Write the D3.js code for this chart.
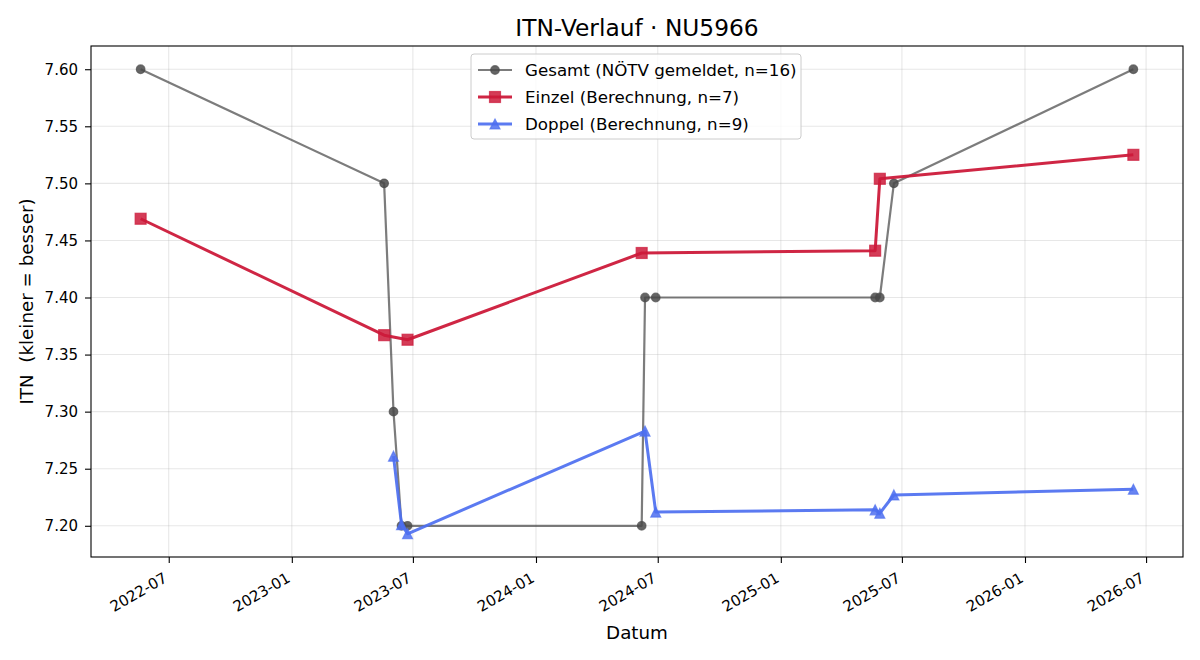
<!DOCTYPE html>
<html>
<head>
<meta charset="utf-8">
<script src="https://cdn.jsdelivr.net/npm/d3@7"></script>
<style>
  body { margin: 0; background: #fff; }
  svg text { font-family: "DejaVu Sans", sans-serif; fill: #000; white-space: pre; }
</style>
</head>
<body>
<svg id="chart" width="1200" height="660"></svg>
<script>
// values
var gesamtDates = ['2022-05-20', '2023-05-19', '2023-06-02', '2023-06-14', '2023-06-23', '2024-06-07',
  '2024-06-12', '2024-06-28', '2025-05-22', '2025-05-29', '2025-06-19', '2026-06-12'];
var gesamtItn = [7.60, 7.50, 7.30, 7.20, 7.20, 7.20, 7.40, 7.40, 7.40, 7.40, 7.50, 7.60];

var einzelDates = ['2022-05-20', '2023-05-19', '2023-06-23', '2024-06-07', '2025-05-22', '2025-05-29', '2026-06-12'];
var einzelItn = [7.469, 7.367, 7.363, 7.439, 7.441, 7.504, 7.525];

var doppelDates = ['2023-06-02', '2023-06-14', '2023-06-23', '2024-06-12', '2024-06-28', '2025-05-22',
  '2025-05-29', '2025-06-19', '2026-06-12'];
var doppelItn = [7.261, 7.201, 7.193, 7.283, 7.212, 7.214, 7.211, 7.227, 7.232];

var yTicks = [7.20, 7.25, 7.30, 7.35, 7.40, 7.45, 7.50, 7.55, 7.60];

var seriesLabels = ['Gesamt (NÖTV gemeldet, n=16)', 'Einzel (Berechnung, n=7)', 'Doppel (Berechnung, n=9)'];

(function () {
  'use strict';
  var W = 1200, H = 660;
  var m = { left: 91, right: 17, top: 46, bottom: 103 };
  var pw = W - m.left - m.right, ph = H - m.top - m.bottom;
  var parse = d3.timeParse('%Y-%m-%d');

  function zip(dates, vals) {
    return dates.map(function (d, i) { return { date: parse(d), v: vals[i] }; });
  }
  var series = [
    { label: seriesLabels[0], data: zip(gesamtDates, gesamtItn), color: '#4a4a4a', lineOp: 0.72, width: 2.2, marker: 'circle', size: 9.6 },
    { label: seriesLabels[1], data: zip(einzelDates, einzelItn), color: '#cc1a3a', lineOp: 0.95, width: 3, marker: 'square', size: 11 },
    { label: seriesLabels[2], data: zip(doppelDates, doppelItn), color: '#4d6ff0', lineOp: 0.92, width: 3, marker: 'triangle', size: 10 }
  ];

  var all = [];
  series.forEach(function (s) { all = all.concat(s.data); });
  var xExt = d3.extent(all, function (d) { return d.date; });
  var yExt = d3.extent(all, function (d) { return d.v; });
  var xPad = (xExt[1] - xExt[0]) * 0.05, yPad = (yExt[1] - yExt[0]) * 0.05;

  var x = d3.scaleTime()
    .domain([new Date(+xExt[0] - xPad), new Date(+xExt[1] + xPad)])
    .range([0, pw]);
  var y = d3.scaleLinear()
    .domain([yExt[0] - yPad, yExt[1] + yPad])
    .range([ph, 0]);

  var svg = d3.select('#chart');
  var g = svg.append('g').attr('transform', 'translate(' + m.left + ',' + m.top + ')');

  var xTicks = x.ticks(d3.timeMonth.every(6));

  // grid
  g.append('g').selectAll('line').data(xTicks).enter().append('line')
    .attr('x1', function (d) { return x(d); }).attr('x2', function (d) { return x(d); })
    .attr('y1', 0).attr('y2', ph)
    .attr('stroke', '#b0b0b0').attr('stroke-opacity', 0.3).attr('stroke-width', 1.1);
  g.append('g').selectAll('line').data(yTicks).enter().append('line')
    .attr('y1', function (d) { return y(d); }).attr('y2', function (d) { return y(d); })
    .attr('x1', 0).attr('x2', pw)
    .attr('stroke', '#b0b0b0').attr('stroke-opacity', 0.3).attr('stroke-width', 1.1);

  // axes
  var xAxis = g.append('g').attr('transform', 'translate(0,' + ph + ')')
    .call(d3.axisBottom(x).tickValues(xTicks).tickFormat(d3.timeFormat('%Y-%m')).tickSize(6).tickSizeOuter(0));
  xAxis.select('.domain').remove();
  xAxis.selectAll('line').attr('stroke', '#000').attr('stroke-width', 1.1);
  xAxis.selectAll('text')
    .attr('font-size', 15)
    .attr('text-anchor', 'end')
    .attr('y', null).attr('dy', null)
    .attr('transform', 'translate(-1,24) rotate(-30)');

  var yAxis = g.append('g')
    .call(d3.axisLeft(y).tickValues(yTicks).tickFormat(d3.format('.2f')).tickSize(6).tickPadding(7).tickSizeOuter(0));
  yAxis.select('.domain').remove();
  yAxis.selectAll('line').attr('stroke', '#000').attr('stroke-width', 1.1);
  yAxis.selectAll('text').attr('font-size', 15);

  // lines and markers
  svg.append('defs').append('clipPath').attr('id', 'plotclip')
    .append('rect').attr('width', pw).attr('height', ph);
  var plot = g.append('g').attr('clip-path', 'url(#plotclip)');
  var line = d3.line().x(function (d) { return x(d.date); }).y(function (d) { return y(d.v); });

  function drawMarker(sel, s) {
    var r = s.size / 2;
    if (s.marker === 'circle') {
      sel.append('circle').attr('r', r - 0.5);
    } else if (s.marker === 'square') {
      sel.append('rect').attr('x', -r).attr('y', -r).attr('width', s.size).attr('height', s.size);
    } else {
      sel.append('path').attr('d', 'M0,' + (-r) + 'L' + r + ',' + r + 'L' + (-r) + ',' + r + 'Z');
    }
  }

  series.forEach(function (s) {
    plot.append('path').datum(s.data)
      .attr('d', line).attr('fill', 'none')
      .attr('stroke', s.color).attr('stroke-opacity', s.lineOp)
      .attr('stroke-width', s.width).attr('stroke-linejoin', 'round');
    plot.append('g').selectAll('g').data(s.data).enter().append('g')
      .attr('transform', function (d) { return 'translate(' + x(d.date) + ',' + y(d.v) + ')'; })
      .each(function () { drawMarker(d3.select(this), s); })
      .selectAll('*')
      .attr('fill', s.color).attr('fill-opacity', 0.85)
      .attr('stroke', s.color).attr('stroke-opacity', 0.7).attr('stroke-width', 1.2);
  });

  // frame
  g.append('rect').attr('width', pw).attr('height', ph)
    .attr('fill', 'none').attr('stroke', '#000').attr('stroke-width', 1.1);

  // legend
  var lg = g.append('g').attr('transform', 'translate(' + (471 - m.left) + ',' + (54 - m.top) + ')');
  lg.append('rect').attr('width', 330).attr('height', 85).attr('rx', 3)
    .attr('fill', '#fff').attr('fill-opacity', 0.8)
    .attr('stroke', '#cccccc').attr('stroke-width', 1);
  series.forEach(function (s, i) {
    var row = lg.append('g').attr('transform', 'translate(0,' + (16 + i * 27) + ')');
    row.append('line').attr('x1', 7).attr('x2', 41)
      .attr('stroke', s.color).attr('stroke-opacity', s.lineOp).attr('stroke-width', s.width);
    row.append('g').attr('transform', 'translate(24,0)')
      .each(function () { drawMarker(d3.select(this), s); })
      .selectAll('*')
      .attr('fill', s.color).attr('fill-opacity', 0.85)
      .attr('stroke', s.color).attr('stroke-opacity', 0.7).attr('stroke-width', 1.2);
    row.append('text').attr('x', 54).attr('dy', '0.35em').attr('font-size', 16.7).text(s.label);
  });

  // titles
  svg.append('text').attr('x', m.left + pw / 2).attr('y', 36)
    .attr('text-anchor', 'middle').attr('font-size', 23.3).text('ITN-Verlauf · NU5966');
  svg.append('text').attr('x', m.left + pw / 2).attr('y', 639)
    .attr('text-anchor', 'middle').attr('font-size', 18.3).text('Datum');
  svg.append('text')
    .attr('transform', 'translate(33,' + (m.top + ph / 2) + ') rotate(-90)')
    .attr('text-anchor', 'middle').attr('font-size', 18.3).text('ITN  (kleiner = besser)');
})();
</script>
</body>
</html>
